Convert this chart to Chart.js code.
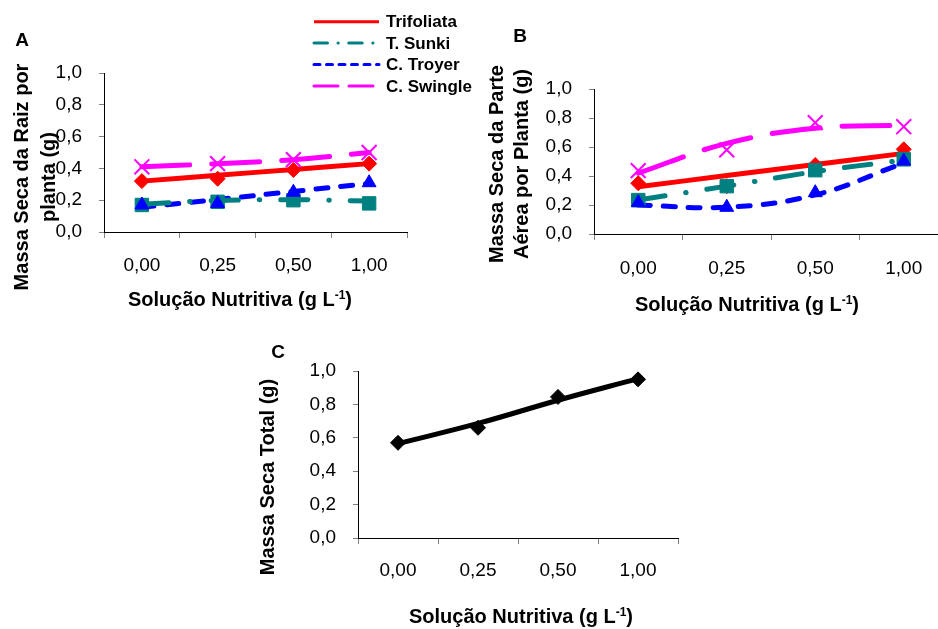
<!DOCTYPE html>
<html lang="pt">
<head>
<meta charset="utf-8">
<title>Massa seca dos porta-enxertos</title>
<script src="https://cdn.jsdelivr.net/npm/chart.js@4.4.1/dist/chart.umd.min.js"></script>
<style>
  html, body { margin: 0; padding: 0; background: #fff; }
  #fig { position: relative; width: 938px; height: 629px; overflow: hidden;
         font-family: "Liberation Sans", Arial, sans-serif; color: #000; }
  .box { position: absolute; }
  .lbl { position: absolute; font-weight: bold; font-size: 20px; white-space: nowrap;
         transform: translate(-50%, -50%); line-height: 1; }
  .letra { font-size: 19px; }
  .rot { transform: translate(-50%, -50%) rotate(-90deg); text-align: center; }
  sup { font-size: 60%; position: relative; top: -0.55em; vertical-align: baseline; }
</style>
</head>
<body>
<div id="fig">
  <div class="box" style="left:0;top:0;width:480px;height:320px"><canvas id="grafA"></canvas></div>
  <div class="box" style="left:470px;top:0;width:500px;height:320px"><canvas id="grafB"></canvas></div>
  <div class="box" style="left:240px;top:330px;width:460px;height:299px"><canvas id="grafC"></canvas></div>

  <div class="lbl letra" style="left:22px;top:39px">A</div>
  <div class="lbl letra" style="left:520px;top:35px">B</div>
  <div class="lbl letra" style="left:278px;top:351px">C</div>

  <div class="lbl rot" style="left:34px;top:177px;line-height:26.5px">Massa Seca da Raiz por<br>planta (g)</div>
  <div class="lbl rot" style="left:509px;top:164px;line-height:25px">Massa Seca da Parte<br>Aérea por Planta (g)</div>
  <div class="lbl rot" style="left:267px;top:477px">Massa Seca Total (g)</div>

  <div class="lbl" style="left:240px;top:299px">Solução Nutritiva (g L<sup>-1</sup>)</div>
  <div class="lbl" style="left:747px;top:304px">Solução Nutritiva (g L<sup>-1</sup>)</div>
  <div class="lbl" style="left:521px;top:616px">Solução Nutritiva (g L<sup>-1</sup>)</div>
</div>

<script>
// doses da solução nutritiva (eixo x)
const categorias = ['0,00', '0,25', '0,50', '1,00'];
const cultivares = ['Trifoliata', 'T. Sunki', 'C. Troyer', 'C. Swingle'];

// A - massa seca da raiz (pontos observados)
const raizTrifoliata = [0.32, 0.335, 0.39, 0.43];
const raizSunki = [0.17, 0.19, 0.20, 0.18];
const raizTroyer = [0.17, 0.18, 0.25, 0.31];
const raizSwingle = [0.41, 0.43, 0.455, 0.50];
// A - linhas de tendencia
const raizTrifoliataTend = [0.32, 0.357, 0.393, 0.43];
const raizSunkiTend = [0.175, 0.198, 0.203, 0.195];
const raizTroyerTend = [0.155, 0.205, 0.255, 0.305];
const raizSwingleTend = [0.41, 0.43, 0.455, 0.50];

// B - massa seca da parte aerea
const aereaTrifoliata = [0.35, 0.33, 0.476, 0.584];
const aereaSunki = [0.234, 0.33, 0.44, 0.515];
const aereaTroyer = [0.216, 0.184, 0.285, 0.503];
const aereaSwingle = [0.437, 0.58, 0.768, 0.74];
const aereaTrifoliataTend = [0.326, 0.403, 0.479, 0.556];
const aereaSunkiTend = [0.235, 0.33, 0.43, 0.51];
const aereaTroyerTend = [0.20, 0.185, 0.27, 0.49];
const aereaSwingleTend = [0.42, 0.625, 0.73, 0.75];

// C - massa seca total
const totalObs = [0.57, 0.66, 0.845, 0.95];
const totalTend = [0.565, 0.686, 0.825, 0.954];

const estilos = {
  'Trifoliata': { cor: '#ff0000', dash: [], ponto: 'rectRot', raio: 7.5 },
  'T. Sunki':   { cor: '#008080', dash: [27, 21, 0.5, 21], ponto: 'rect', raio: 9.5 },
  'C. Troyer':  { cor: '#0000ff', dash: [12, 13], ponto: 'triangle', raio: 8 },
  'C. Swingle': { cor: '#ff00ff', dash: [48, 22], ponto: 'crossRot', raio: 10.5 }
};

const familia = '"Liberation Sans", Arial, sans-serif';
const fonteTick = { family: familia, size: 19 };

function eixos(larguraY, alturaX, padX) {
  return {
    x: {
      type: 'category',
      offset: true,
      grid: { offset: true, drawOnChartArea: false, tickLength: 6, color: '#808080' },
      border: { color: '#000', width: 1 },
      ticks: { color: '#000', font: fonteTick, padding: padX, maxRotation: 0 },
      afterFit: s => { s.height = alturaX; }
    },
    y: {
      min: 0,
      max: 1,
      grid: { drawOnChartArea: false, tickLength: 5, color: '#808080' },
      border: { color: '#000', width: 1 },
      ticks: {
        stepSize: 0.2, color: '#000', font: fonteTick, padding: 17,
        callback: v => v.toFixed(1).replace('.', ',')
      },
      afterFit: s => { s.width = larguraY; }
    }
  };
}

function linhaTendencia(label, valores, cor, dash, ordem) {
  return {
    label: label,
    naLegenda: true,
    data: valores,
    borderColor: cor,
    borderDash: dash,
    borderWidth: 5,
    borderCapStyle: dash.length ? 'round' : 'butt',
    pointRadius: 0,
    tension: 0.4,
    fill: false,
    order: ordem
  };
}

function pontos(label, valores, estilo, ordem) {
  return {
    label: label,
    data: valores,
    showLine: false,
    pointStyle: estilo.ponto,
    pointRadius: estilo.raio,
    pointBackgroundColor: estilo.cor,
    pointBorderColor: estilo.cor,
    pointBorderWidth: estilo.ponto === 'crossRot' ? 2 : 1,
    clip: false,
    order: ordem
  };
}

function conjuntos(obs, tend) {
  const linhas = cultivares.map((c, i) => linhaTendencia(c, tend[i], estilos[c].cor, estilos[c].dash, 10 + i));
  const marcas = cultivares.map((c, i) => pontos(c + ' (obs.)', obs[i], estilos[c], 3 - i));
  return linhas.concat(marcas);
}

// legenda desenhada no topo do grafico A
const legendaManual = {
  id: 'legendaManual',
  afterDraw(chart, args, opts) {
    if (!opts.mostrar) return;
    const ctx = chart.ctx;
    ctx.save();
    ctx.font = 'bold 17px ' + familia;
    ctx.textBaseline = 'middle';
    ctx.fillStyle = '#000';
    chart.data.datasets.filter(ds => ds.naLegenda).forEach((ds, i) => {
      const y = opts.topo + i * opts.passo;
      ctx.beginPath();
      ctx.strokeStyle = ds.borderColor;
      ctx.lineWidth = 3;
      ctx.lineCap = ds.borderDash.length ? 'round' : 'butt';
      ctx.setLineDash(ds.borderDash.map(d => d / 2));
      ctx.moveTo(opts.x, y);
      ctx.lineTo(opts.x + opts.largura, y);
      ctx.stroke();
      ctx.setLineDash([]);
      ctx.fillText(ds.label, opts.x + opts.largura + 7, y + 1);
    });
    ctx.restore();
  }
};

function criarGrafico(id, datasets, padding, larguraY, alturaX, padX, legenda) {
  return new Chart(document.getElementById(id), {
    type: 'line',
    data: { labels: categorias, datasets: datasets },
    options: {
      responsive: true,
      maintainAspectRatio: false,
      animation: false,
      layout: { padding: padding },
      plugins: {
        legend: { display: false },
        tooltip: { enabled: false },
        legendaManual: legenda || { mostrar: false }
      },
      scales: eixos(larguraY, alturaX, padX)
    },
    plugins: [legendaManual]
  });
}

criarGrafico('grafA',
  conjuntos([raizTrifoliata, raizSunki, raizTroyer, raizSwingle],
            [raizTrifoliataTend, raizSunkiTend, raizTroyerTend, raizSwingleTend]),
  { top: 73, right: 73, left: 0, bottom: 0 }, 104, 88, 16,
  { mostrar: true, x: 314, largura: 65, topo: 21.7, passo: 21.4 });

criarGrafico('grafB',
  conjuntos([aereaTrifoliata, aereaSunki, aereaTroyer, aereaSwingle],
            [aereaTrifoliataTend, aereaSunkiTend, aereaTroyerTend, aereaSwingleTend]),
  { top: 89, right: 22, left: 0, bottom: 0 }, 124, 86, 17);

criarGrafico('grafC', [
  linhaTendencia('Total', totalTend, '#000', [], 10),
  pontos('Total (obs.)', totalObs, { cor: '#000', ponto: 'rectRot', raio: 7.5 }, 0)
], { top: 41, right: 22, left: 0, bottom: 0 }, 118, 91, 15);
</script>
</body>
</html>
